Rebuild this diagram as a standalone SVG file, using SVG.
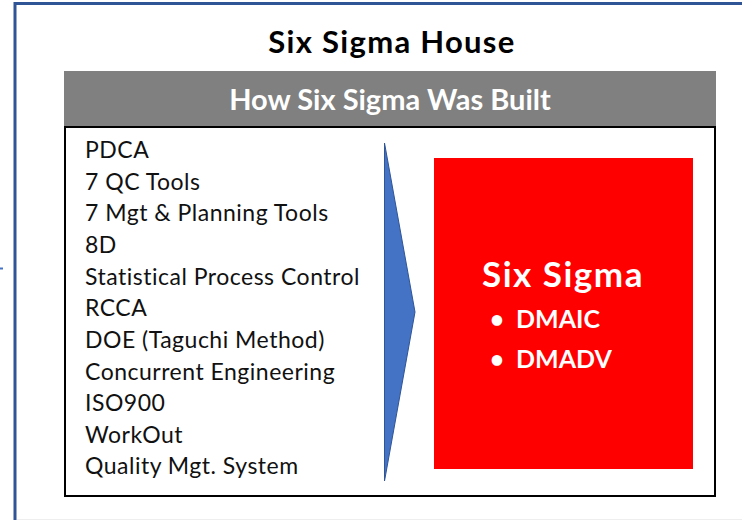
<svg xmlns="http://www.w3.org/2000/svg" width="742" height="520" viewBox="0 0 742 520">
<style>
.t{font-family:Lato,"Liberation Sans",sans-serif}
.list{font-family:Lato,"Liberation Sans",sans-serif;font-size:23px;letter-spacing:0.5px;fill:#111}
.w{fill:#fff;font-weight:bold}
</style>
<rect width="742" height="520" fill="#fff"/>
<g id="frame">
<path d="M15,520 V3.5 H745" fill="none" stroke="#2F5597" stroke-width="3"/>
<line x1="0" y1="268.5" x2="3" y2="268.5" stroke="#4472C4" stroke-width="2"/>
<line x1="17" y1="519.5" x2="742" y2="519.5" stroke="#eee" stroke-width="1"/>
</g>
<g id="title">
<text class="t" x="392" y="53" font-size="31" font-weight="bold" letter-spacing="1.3" text-anchor="middle" fill="#000">Six Sigma House</text>
</g>
<g id="header">
<rect x="64" y="71" width="652" height="57" fill="#808080"/>
<text class="t w" x="390" y="110" font-size="29" text-anchor="middle">How Six Sigma Was Built</text>
</g>
<g id="sources">
<rect x="65" y="127" width="650" height="369" fill="#fff" stroke="#000" stroke-width="2"/>
<text class="list" x="85" y="158">PDCA</text>
<text class="list" x="85" y="190">7 QC Tools</text>
<text class="list" x="85" y="221">7 Mgt &amp; Planning Tools</text>
<text class="list" x="85" y="253">8D</text>
<text class="list" x="85" y="285">Statistical Process Control</text>
<text class="list" x="85" y="316">RCCA</text>
<text class="list" x="85" y="348">DOE (Taguchi Method)</text>
<text class="list" x="85" y="380">Concurrent Engineering</text>
<text class="list" x="85" y="411">ISO900</text>
<text class="list" x="85" y="443">WorkOut</text>
<text class="list" x="85" y="474">Quality Mgt. System</text>
</g>
<g id="connectors">
<polygon points="384.5,143 415,312 384.5,481" fill="#4472C4" stroke="#2F5597" stroke-width="1"/>
</g>
<g id="sixsigma">
<rect x="434" y="158" width="259" height="311" fill="#FF0000"/>
<text class="t w" x="563" y="287" font-size="35" letter-spacing="1.5" text-anchor="middle">Six Sigma</text>
<text class="t w" x="490" y="328" font-size="24">•</text>
<text class="t w" x="516" y="328" font-size="25">DMAIC</text>
<text class="t w" x="490" y="368" font-size="24">•</text>
<text class="t w" x="516" y="368" font-size="25">DMADV</text>
</g>
</svg>
